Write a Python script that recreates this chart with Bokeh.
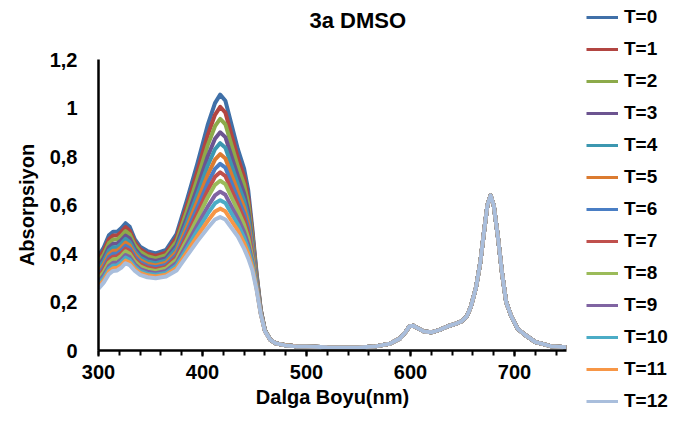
from bokeh.plotting import figure
from bokeh.models import Range1d, FixedTicker, Legend, LegendItem, Title
from bokeh.layouts import row
from bokeh.embed import file_html
from bokeh.resources import INLINE

# ---- data ----
wl_uv = [300, 305, 310, 314, 318, 322, 326, 330, 335, 340, 347, 355, 365, 375, 385,
         395, 405, 412, 417, 422, 428, 434, 440, 444, 448, 452, 456, 460, 465, 470, 480, 490]

a_T0 = [0.390, 0.425, 0.475, 0.490, 0.490, 0.505, 0.525, 0.510, 0.458, 0.428, 0.410, 0.400, 0.415, 0.480, 0.620,
        0.770, 0.930, 1.020, 1.055, 1.030, 0.930, 0.830, 0.750, 0.660, 0.500, 0.320, 0.170, 0.085, 0.045, 0.030, 0.022, 0.018]
a_T1 = [0.377, 0.411, 0.459, 0.474, 0.474, 0.489, 0.509, 0.494, 0.446, 0.418, 0.399, 0.390, 0.404, 0.465, 0.597,
        0.738, 0.888, 0.972, 1.005, 0.981, 0.888, 0.794, 0.717, 0.632, 0.483, 0.313, 0.168, 0.084, 0.045, 0.030, 0.022, 0.018]
a_T2 = [0.363, 0.396, 0.443, 0.458, 0.458, 0.473, 0.492, 0.479, 0.434, 0.407, 0.389, 0.380, 0.393, 0.450, 0.575,
        0.707, 0.846, 0.925, 0.955, 0.933, 0.846, 0.759, 0.685, 0.605, 0.466, 0.306, 0.166, 0.084, 0.045, 0.030, 0.022, 0.018]
a_T3 = [0.349, 0.381, 0.426, 0.440, 0.441, 0.455, 0.474, 0.462, 0.420, 0.394, 0.377, 0.369, 0.381, 0.434, 0.549,
        0.672, 0.800, 0.873, 0.900, 0.880, 0.800, 0.720, 0.649, 0.574, 0.448, 0.299, 0.164, 0.083, 0.045, 0.030, 0.022, 0.018]
a_T4 = [0.337, 0.368, 0.412, 0.426, 0.427, 0.441, 0.460, 0.447, 0.408, 0.383, 0.367, 0.360, 0.371, 0.421, 0.529,
        0.643, 0.762, 0.830, 0.855, 0.836, 0.762, 0.687, 0.619, 0.549, 0.433, 0.292, 0.162, 0.083, 0.045, 0.030, 0.022, 0.018]
a_T5 = [0.325, 0.355, 0.397, 0.411, 0.412, 0.426, 0.445, 0.433, 0.397, 0.373, 0.358, 0.351, 0.362, 0.407, 0.509,
        0.615, 0.724, 0.787, 0.810, 0.792, 0.724, 0.655, 0.590, 0.524, 0.418, 0.286, 0.160, 0.083, 0.045, 0.030, 0.022, 0.018]
a_T6 = [0.314, 0.343, 0.385, 0.399, 0.400, 0.413, 0.432, 0.421, 0.386, 0.364, 0.349, 0.343, 0.353, 0.395, 0.490,
        0.590, 0.690, 0.749, 0.770, 0.754, 0.690, 0.627, 0.564, 0.502, 0.404, 0.281, 0.159, 0.082, 0.045, 0.030, 0.022, 0.018]
a_T7 = [0.304, 0.333, 0.374, 0.387, 0.389, 0.402, 0.420, 0.410, 0.376, 0.355, 0.342, 0.335, 0.345, 0.385, 0.474,
        0.567, 0.661, 0.716, 0.735, 0.719, 0.661, 0.602, 0.541, 0.483, 0.392, 0.276, 0.157, 0.082, 0.045, 0.030, 0.022, 0.018]
a_T8 = [0.295, 0.323, 0.363, 0.376, 0.378, 0.390, 0.409, 0.399, 0.367, 0.347, 0.334, 0.328, 0.338, 0.375, 0.458,
        0.545, 0.631, 0.683, 0.700, 0.686, 0.631, 0.577, 0.518, 0.463, 0.381, 0.271, 0.156, 0.082, 0.045, 0.030, 0.022, 0.018]
a_T9 = [0.283, 0.310, 0.348, 0.362, 0.363, 0.376, 0.394, 0.385, 0.355, 0.336, 0.325, 0.319, 0.328, 0.361, 0.438,
        0.517, 0.593, 0.640, 0.655, 0.642, 0.593, 0.545, 0.489, 0.438, 0.365, 0.265, 0.154, 0.081, 0.045, 0.030, 0.022, 0.018]
a_T10 = [0.274, 0.300, 0.337, 0.351, 0.352, 0.365, 0.383, 0.374, 0.346, 0.328, 0.317, 0.312, 0.320, 0.351, 0.422,
         0.495, 0.564, 0.607, 0.620, 0.608, 0.564, 0.520, 0.466, 0.419, 0.354, 0.260, 0.153, 0.081, 0.045, 0.030, 0.022, 0.018]
a_T11 = [0.264, 0.290, 0.326, 0.339, 0.341, 0.353, 0.371, 0.363, 0.337, 0.320, 0.310, 0.305, 0.313, 0.340, 0.406,
         0.472, 0.534, 0.573, 0.585, 0.574, 0.534, 0.495, 0.443, 0.399, 0.342, 0.255, 0.151, 0.080, 0.045, 0.030, 0.022, 0.018]
a_T12 = [0.255, 0.280, 0.315, 0.328, 0.330, 0.342, 0.360, 0.352, 0.328, 0.312, 0.302, 0.298, 0.305, 0.330, 0.390,
         0.450, 0.505, 0.540, 0.550, 0.540, 0.505, 0.470, 0.420, 0.380, 0.330, 0.250, 0.150, 0.080, 0.045, 0.030, 0.021, 0.017]

# Q-band region (all spectra coincide here)
wl_q = [500, 520, 550, 565, 580, 590, 595, 599, 603, 607, 613, 620, 628, 636, 643, 649, 654, 658, 663,
        667, 671, 674, 677, 680, 684, 688, 692, 697, 703, 710, 720, 735, 750]
a_q = [0.016, 0.013, 0.012, 0.016, 0.028, 0.050, 0.075, 0.100, 0.102, 0.092, 0.078, 0.075, 0.085, 0.100,
       0.110, 0.120, 0.140, 0.180, 0.260, 0.360, 0.500, 0.600, 0.640, 0.600, 0.470, 0.320, 0.200, 0.140,
       0.090, 0.065, 0.035, 0.018, 0.013]

series_names = ["T=0", "T=1", "T=2", "T=3", "T=4", "T=5", "T=6",
                "T=7", "T=8", "T=9", "T=10", "T=11", "T=12"]
series_vals = [a_T0, a_T1, a_T2, a_T3, a_T4, a_T5, a_T6, a_T7, a_T8, a_T9, a_T10, a_T11, a_T12]
colors = ["#4070A8", "#B24541", "#8CAA4A", "#6C5490", "#3C97B0", "#DB7B30", "#4A7EC4",
          "#C0504D", "#9BBB59", "#8064A2", "#4BACC6", "#F79646", "#A9BEDC"]

x_ticks = [300, 400, 500, 600, 700]
x_minor = [300, 320, 340, 360, 380, 400, 420, 440, 460, 480, 500, 520, 540, 560, 580,
           600, 620, 640, 660, 680, 700, 720, 740]
y_ticks = [0, 0.2, 0.4, 0.6, 0.8, 1.0, 1.2]
y_tick_labels = ["0", "0,2", "0,4", "0,6", "0,8", "1", "1,2"]

FONT = "Liberation Sans"
FS = "20px"

# ---------------- main chart ----------------
p = figure(width=580, height=414, output_backend="svg", toolbar_location=None,
           x_range=Range1d(300, 750), y_range=Range1d(0, 1.2),
           min_border_left=98, min_border_right=14, min_border_top=0, min_border_bottom=64)
p.frame_align = False
p.outline_line_color = None
p.xgrid.visible = False
p.ygrid.visible = False
p.background_fill_color = "white"
p.border_fill_color = "white"

spacer = Title(text=" ", text_font=FONT, text_font_size="10px", standoff=9)
p.add_layout(spacer, "above")
main_title = Title(text="3a DMSO", text_font=FONT, text_font_size="22px", text_font_style="bold",
                   text_color="black", align="left", offset=211, standoff=10)
p.add_layout(main_title, "above")

for name, vals, col in zip(series_names, series_vals, colors):
    p.line(wl_uv + wl_q, vals + a_q, line_color=col, line_width=4, line_join="round")

xa = p.xaxis[0]
xa.ticker = FixedTicker(ticks=x_ticks, minor_ticks=x_minor)
xa.axis_line_width = 2.5
xa.axis_line_color = "black"
xa.major_tick_line_width = 2
xa.minor_tick_line_width = 2
xa.major_tick_out = 6
xa.major_tick_in = 0
xa.minor_tick_out = 5
xa.minor_tick_in = 0
xa.major_label_text_font = FONT
xa.major_label_text_font_size = FS
xa.major_label_text_font_style = "bold"
xa.major_label_text_color = "black"
xa.major_label_standoff = 8
xa.axis_label = "Dalga Boyu(nm)"
xa.axis_label_text_font = FONT
xa.axis_label_text_font_size = FS
xa.axis_label_text_font_style = "bold"
xa.axis_label_text_color = "black"
xa.axis_label_standoff = 4

ya = p.yaxis[0]
ya.ticker = FixedTicker(ticks=y_ticks, minor_ticks=[])
ya.major_label_overrides = {t: s for t, s in zip(y_ticks, y_tick_labels)}
ya.axis_line_width = 2.5
ya.axis_line_color = "black"
ya.major_tick_out = 0
ya.major_tick_in = 0
ya.minor_tick_out = 0
ya.minor_tick_in = 0
ya.major_label_text_font = FONT
ya.major_label_text_font_size = FS
ya.major_label_text_font_style = "bold"
ya.major_label_text_color = "black"
ya.major_label_standoff = 21
ya.axis_label = "Absorpsiyon"
ya.axis_label_text_font = FONT
ya.axis_label_text_font_size = FS
ya.axis_label_text_font_style = "bold"
ya.axis_label_text_color = "black"
ya.axis_label_standoff = 9

# ---------------- legend panel ----------------
pl = figure(width=90, height=414, output_backend="svg", toolbar_location=None,
            x_range=Range1d(0, 1), y_range=Range1d(0, 1),
            x_axis_type=None, y_axis_type=None, min_border=0)
pl.frame_align = False
pl.outline_line_color = None
pl.background_fill_color = "white"
pl.border_fill_color = "white"

# key renderers carry the same series (they fall outside this panel's range, only the keys show)
key_renderers = [pl.line(wl_uv + wl_q, vals + a_q, line_color=col, line_width=3)
                 for vals, col in zip(series_vals, colors)]
items = [LegendItem(label=n, renderers=[r]) for n, r in zip(series_names, key_renderers)]
leg = Legend(items=items, location="top_left", orientation="vertical")
leg.label_text_font = FONT
leg.label_text_font_size = "19px"
leg.label_text_font_style = "bold"
leg.label_text_color = "black"
leg.glyph_width = 32
leg.glyph_height = 22
leg.label_height = 22
leg.label_standoff = 6
leg.spacing = 10
leg.padding = 0
leg.margin = 6
leg.border_line_color = None
leg.background_fill_alpha = 0
pl.add_layout(leg)

layout = row(p, pl)
open("out.html", "w").write(file_html(layout, INLINE))
